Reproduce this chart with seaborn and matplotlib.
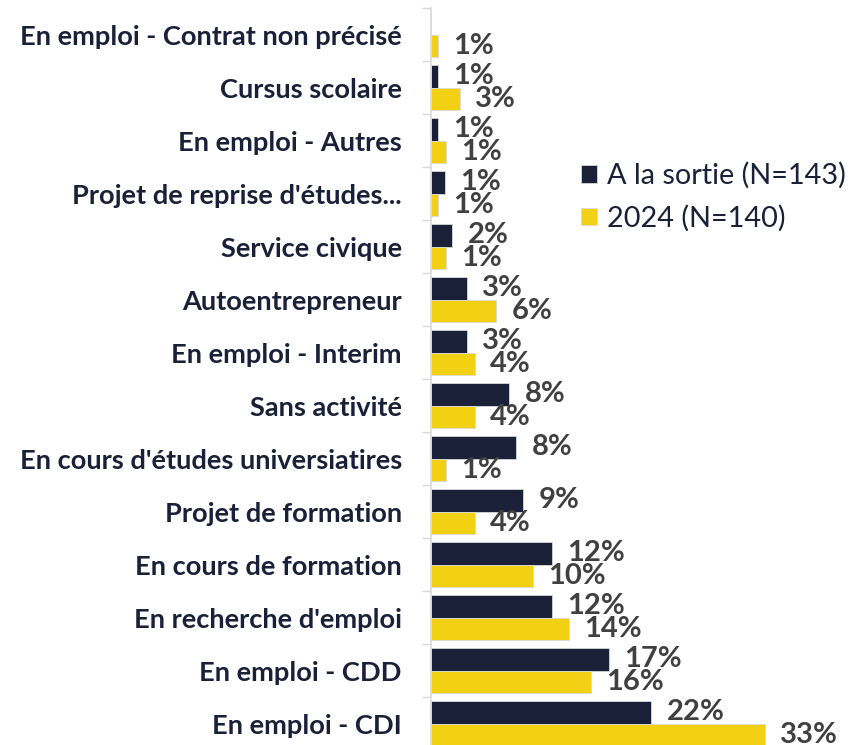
# situation des sortants : a la sortie vs 2024, barres horizontales groupees

import pandas as pd
import matplotlib.pyplot as plt
import seaborn as sns
from matplotlib.ticker import FixedLocator

# categories, de haut en bas
categories = [
    "En emploi - Contrat non précisé",
    "Cursus scolaire",
    "En emploi - Autres",
    "Projet de reprise d'études...",
    "Service civique",
    "Autoentrepreneur",
    "En emploi - Interim",
    "Sans activité",
    "En cours d'études universiatires",
    "Projet de formation",
    "En cours de formation",
    "En recherche d'emploi",
    "En emploi - CDD",
    "En emploi - CDI",
]

# pourcentages
sortie = [0.0, 0.70, 0.70, 1.40, 2.10, 3.497, 3.497, 7.69, 8.39, 9.09, 11.89, 11.89, 17.48, 21.68]
annee_2024 = [0.71, 2.86, 1.43, 0.71, 1.43, 6.43, 4.29, 4.29, 1.43, 4.29, 10.0, 13.57, 15.71, 32.86]

series_names = ["A la sortie (N=143)", "2024 (N=140)"]

NAVY = "#1B2039"
YELLOW = "#F2D013"
GREY_TXT = "#404040"

df = pd.DataFrame({
    "categorie": categories * 2,
    "pct": sortie + annee_2024,
    "serie": [series_names[0]] * len(categories) + [series_names[1]] * len(categories),
})

sns.set_theme(style="white")
plt.rcParams["font.family"] = ["Lato", "DejaVu Sans"]

fig = plt.figure(figsize=(8.61, 7.45), dpi=100)
ax = fig.add_axes([431 / 861, -5 / 745, 430 / 861, 742 / 745])

sns.barplot(
    data=df,
    y="categorie",
    x="pct",
    hue="serie",
    order=categories,
    hue_order=series_names,
    palette=[NAVY, YELLOW],
    saturation=1,
    width=0.853,
    edgecolor="#D9D9D9",
    linewidth=0.6,
    orient="h",
    ax=ax,
)

ax.set_xlim(0, 42.3)
ax.set_ylim(len(categories) - 0.5, -0.5)
ax.set_xlabel("")
ax.set_ylabel("")
ax.set_xticks([])

# labels des categories (ticks majeurs, sans trait) + petits traits aux separations
ax.set_yticks(range(len(categories)))
ax.set_yticklabels(categories, fontsize=19.6, fontweight="bold", color=NAVY)
ax.tick_params(axis="y", which="major", length=0, pad=21)
ax.yaxis.set_minor_locator(FixedLocator([i + 0.5 for i in range(-1, len(categories))]))
ax.tick_params(axis="y", which="minor", left=True, length=6.5, width=1, color="#D9D9D9")

for side in ["top", "right", "bottom"]:
    ax.spines[side].set_visible(False)
ax.spines["left"].set_color("#D9D9D9")
ax.spines["left"].set_linewidth(1.2)

# etiquettes de valeurs
for cont in ax.containers:
    labels = [f"{b.get_width():.0f}%" if b.get_width() > 0 else "" for b in cont]
    ax.bar_label(cont, labels=labels, padding=11, fontsize=21, fontweight="bold", color=GREY_TXT)

ax.legend(
    title=None,
    frameon=False,
    loc="center left",
    bbox_to_anchor=(581 / 861, 1 - 197 / 745),
    bbox_transform=fig.transFigure,
    borderaxespad=0,
    borderpad=0,
    fontsize=20.8,
    handlelength=0.56,
    handleheight=0.56,
    handletextpad=0.34,
    labelspacing=0.55,
    labelcolor=NAVY,
)

fig.savefig("out.png", dpi=100)
